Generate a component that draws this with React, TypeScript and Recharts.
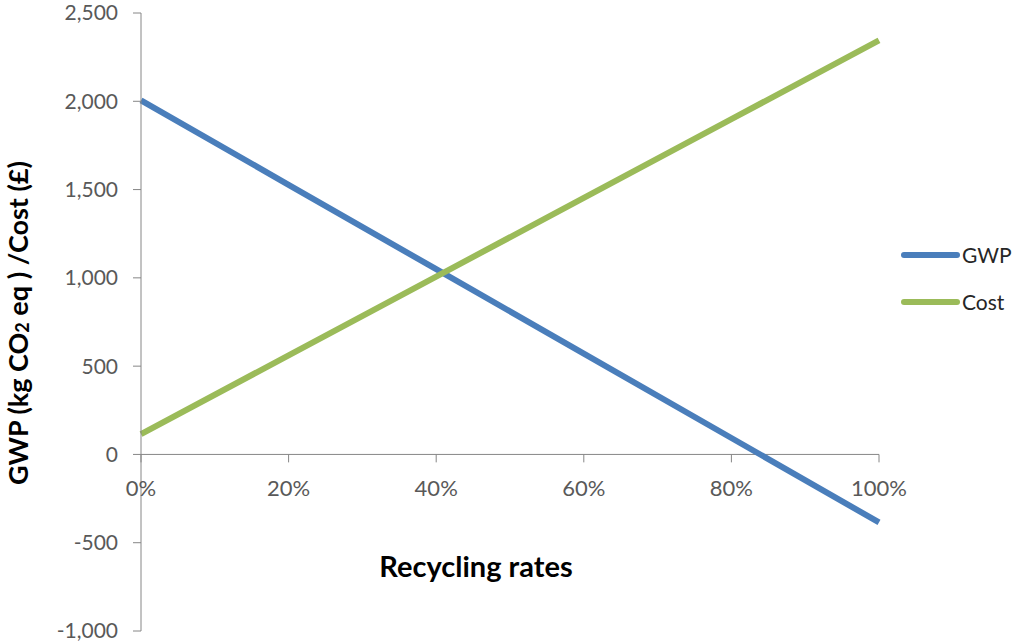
import { LineChart, Line, XAxis, YAxis, ReferenceLine, Label } from 'recharts'

// recycling rate (%) and the two series
const RATES = [0, 20, 40, 60, 80, 100]
const GWP = [2005, 1527, 1049, 571, 93, -385]
const COST = [115, 561, 1007, 1453, 1899, 2345]

const Y_TICKS = [-1000, -500, 0, 500, 1000, 1500, 2000, 2500]
const X_TICKS = [0, 20, 40, 60, 80, 100]

const SERIES = [
  { key: 'GWP', color: '#4A7EBB' },
  { key: 'Cost', color: '#9BBB59' },
]

const Y_MIN = -1000
const Y_MAX = 2500

const W = 1017
const H = 642
const MARGIN = { top: 13, right: 138, bottom: 0, left: 0 }
const X_AXIS_H = 11
const PLOT_H = H - MARGIN.top - MARGIN.bottom - X_AXIS_H
const ZERO_Y = MARGIN.top + (PLOT_H * Y_MAX) / (Y_MAX - Y_MIN)

const FONT = 'Lato, "Open Sans", sans-serif'
const AXIS_COLOR = '#868686'
const TEXT_COLOR = '#595959'
const TICK_UNITS = 45 // ~8px downward tick marks on the x axis

const data = RATES.map((r, i) => ({ rate: r, GWP: GWP[i], Cost: COST[i] }))

const fmt = (v: number) => v.toLocaleString('en-US')

function XTick(props: any) {
  const { x, payload } = props
  return (
    <text x={x} y={ZERO_Y + 36} textAnchor="middle" dominantBaseline="middle" fill={TEXT_COLOR} fontSize={22} fontFamily={FONT}>
      {payload.value}%
    </text>
  )
}

function YTitle() {
  const cx = 21
  const cy = 323
  return (
    <text
      x={cx}
      y={cy}
      transform={`rotate(-90 ${cx} ${cy})`}
      textAnchor="middle"
      dominantBaseline="middle"
      fill="#000"
      fontSize={27}
      fontWeight="bold"
      fontFamily={FONT}
    >
      GWP (kg CO<tspan fontSize={18} dy={3}>2</tspan>
      <tspan dy={-3}> eq ) /Cost (£)</tspan>
    </text>
  )
}

function XTitle(props: any) {
  const { viewBox } = props
  const cx = viewBox.x + viewBox.width / 2 - 34
  return (
    <text x={cx} y={570} textAnchor="middle" dominantBaseline="middle" fill="#000" fontSize={29} fontWeight="bold" fontFamily={FONT}>
      Recycling rates
    </text>
  )
}

export default function App() {
  return (
    <div style={{ position: 'absolute', left: 0, top: 0, width: W, height: H, background: '#fff' }}>
      <LineChart width={W} height={H} data={data} margin={MARGIN}>
        <XAxis
          dataKey="rate"
          type="number"
          domain={[0, 100]}
          ticks={X_TICKS}
          interval={0}
          height={X_AXIS_H}
          axisLine={false}
          tickLine={false}
          tick={<XTick />}
        >
          <Label content={<XTitle />} />
        </XAxis>
        <YAxis
          type="number"
          domain={[Y_MIN, Y_MAX]}
          ticks={Y_TICKS}
          interval={0}
          width={141}
          tickFormatter={fmt}
          tickSize={8}
          tickMargin={15}
          axisLine={{ stroke: AXIS_COLOR }}
          tickLine={{ stroke: AXIS_COLOR }}
          tick={{ fill: TEXT_COLOR, fontSize: 21, fontFamily: FONT }}
        >
          <Label content={<YTitle />} />
        </YAxis>
        <ReferenceLine y={0} stroke={AXIS_COLOR} strokeWidth={1} />
        {X_TICKS.map((t) => (
          <ReferenceLine
            key={t}
            segment={[
              { x: t, y: 0 },
              { x: t, y: -TICK_UNITS },
            ]}
            stroke={AXIS_COLOR}
          />
        ))}
        {SERIES.map((s) => (
          <Line key={s.key} type="linear" dataKey={s.key} stroke={s.color} strokeWidth={6} dot={false} isAnimationActive={false} />
        ))}
      </LineChart>
      <div style={{ position: 'absolute', left: 901, top: 231, fontFamily: FONT }}>
        {SERIES.map((s) => (
          <div key={s.key} style={{ display: 'flex', alignItems: 'center', height: 47 }}>
            <div style={{ width: 59, height: 6, background: s.color, borderRadius: 3, marginRight: 2 }} />
            <span style={{ fontSize: 21, color: '#262626' }}>{s.key}</span>
          </div>
        ))}
      </div>
    </div>
  )
}
